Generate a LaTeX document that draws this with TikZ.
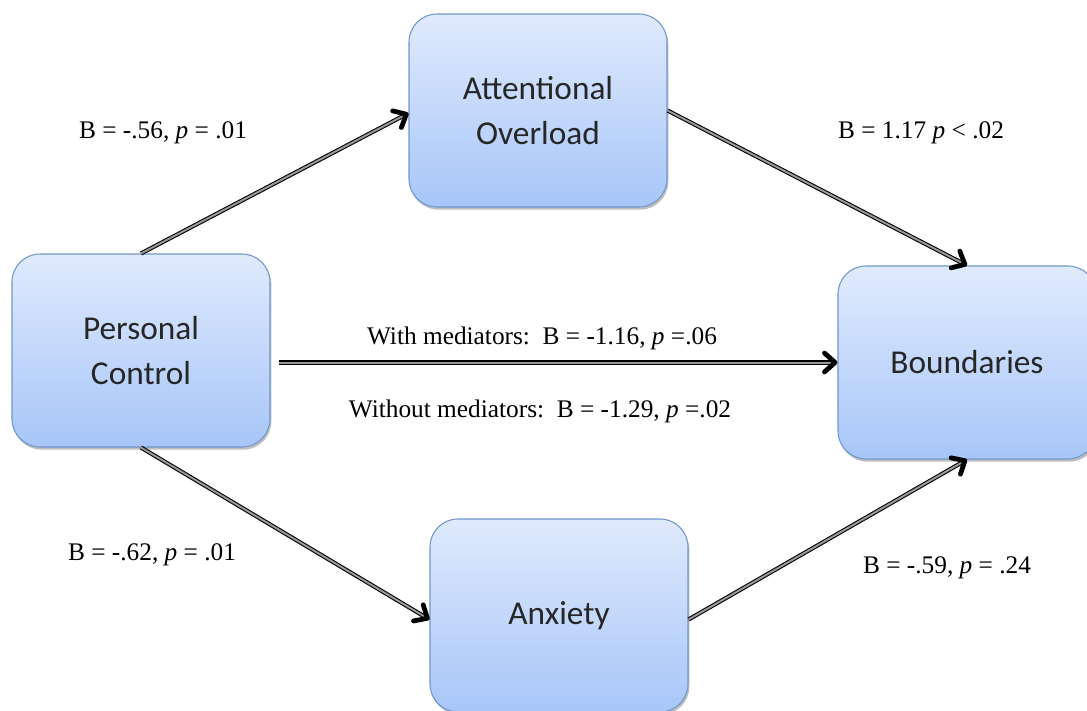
\documentclass[tikz,border=0pt]{standalone}
\usepackage{fontspec}
\setmainfont{Liberation Serif}
\newfontfamily\boxfont{Carlito}
\usetikzlibrary{shadows,calc}
\definecolor{boxtop}{HTML}{E0EAFD}
\definecolor{boxbot}{HTML}{A7C6F8}
\definecolor{boxedge}{HTML}{7097CC}
\tikzset{
  varbox/.style={rectangle, rounded corners=21pt, draw=boxedge, line width=0.8pt,
    top color=boxtop, bottom color=boxbot, minimum width=193.5pt, minimum height=144.75pt,
    align=center, font=\boxfont\fontsize{25}{34}\selectfont, text=black!85,
    drop shadow={shadow xshift=1pt, shadow yshift=-2pt, opacity=0.25, fill=black}},
  pathline/.style={draw=black, line width=0.8pt, double=black!40, double distance=1.5pt,
    shorten >=2pt},
  chevron/.style={draw=black, line width=3.6pt, line join=round, line cap=round}
}
\newcommand\connect[2]{%
  \draw[pathline] (#1) -- (#2);
  \draw[chevron] ($(#2)!12pt!36:(#1)$) -- ($(#2)!1.8pt!(#1)$) -- ($(#2)!12pt!-36:(#1)$);}
\begin{document}
\begin{tikzpicture}[x=0.75pt,y=-0.75pt]
\useasboundingbox (0,0) rectangle (1087,710);
\clip (0,0) rectangle (1087,710);
\fill[white] (0,0) rectangle (1087,710);
\node[varbox] (pc) at (141,350.5) {Personal\\Control};
\node[varbox] (ao) at (538,110.5) {Attentional\\Overload};
\node[varbox] (bd) at (967,362.5) {Boundaries};
\node[varbox] (ax) at (559,615.5) {Anxiety};
\coordinate (aoin) at ([yshift=-2]ao.west);
\coordinate (pcout) at ([xshift=6pt]pc.east |- bd.west);
\coordinate (axin) at ([yshift=-3]ax.west);
\coordinate (axout) at ([yshift=-3]ax.east);
\connect{pc.north}{aoin}
\connect{ao.east}{bd.north}
\connect{pcout}{bd.west}
\connect{pc.south}{axin}
\connect{axout}{bd.south}
\tikzset{lab/.style={font=\fontsize{19}{22}\selectfont, inner sep=0pt}}
\node[lab] (l1) at (163,133) {B = -.56,\ \textit{p} = .01};
\node[lab] (l2) at (921,133) {B = 1.17 \textit{p} {\textless} .02};
\node[lab] (l3) at (542,338) {With mediators:\ \ B = -1.16, \textit{p} =.06};
\node[lab] (l4) at (540,411) {Without mediators:\ \ B = -1.29,\ \textit{p} =.02};
\node[lab] (l5) at (152,555) {B = -.62,\ \textit{p} = .01};
\node[lab] (l6) at (947,568) {B = -.59,\ \textit{p} = .24};
\end{tikzpicture}
\end{document}
